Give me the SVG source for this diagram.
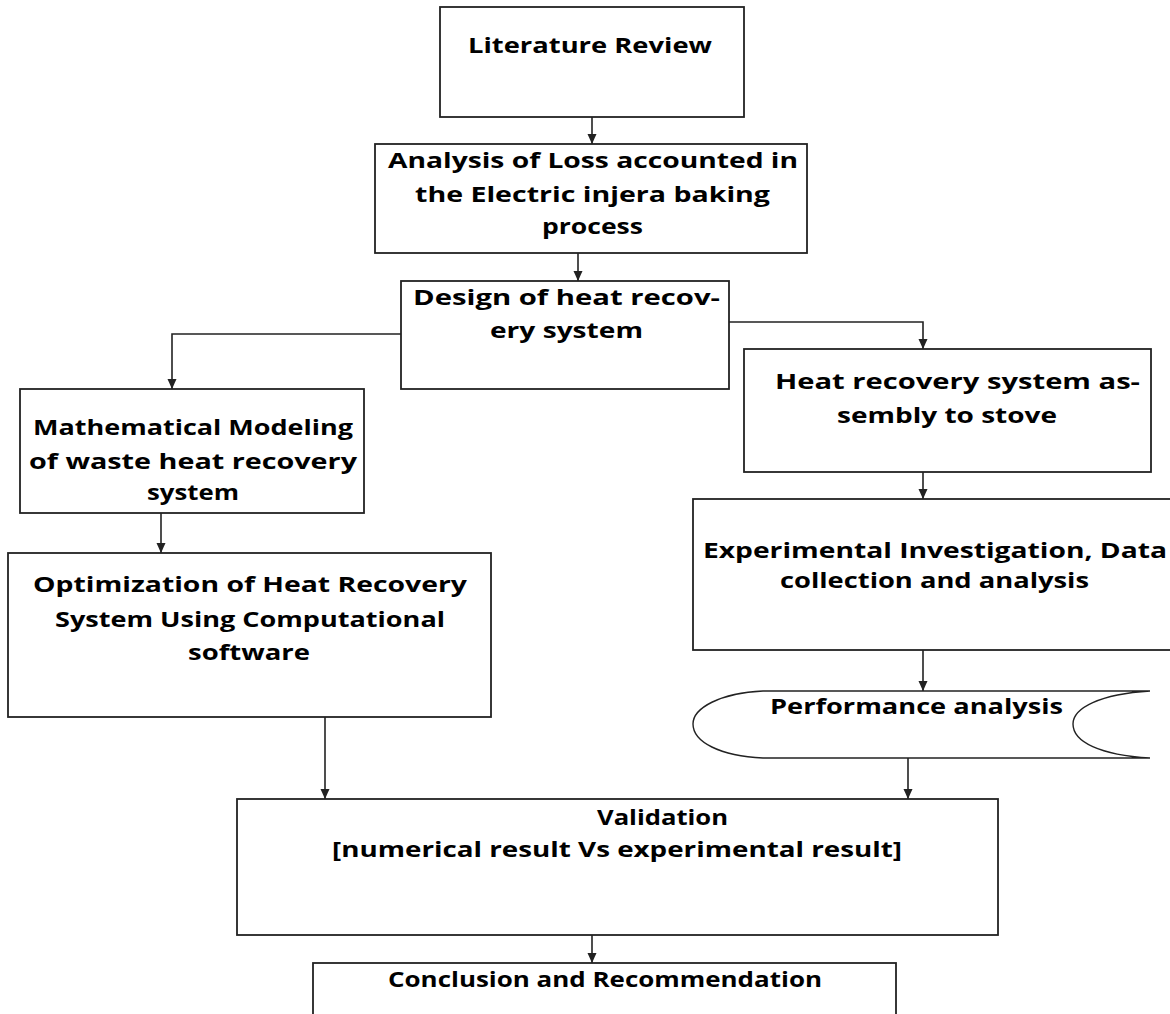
<svg xmlns="http://www.w3.org/2000/svg" width="1170" height="1014" viewBox="0 0 1170 1014">
<style>
.box{fill:#fff;stroke:#222;stroke-width:1.8}
.conn{fill:none;stroke:#222;stroke-width:1.6}
text{font-family:"Open Sans","DejaVu Sans",sans-serif;font-weight:700;font-size:22px;fill:#000}
</style>
<defs>
<marker id="arr" markerUnits="userSpaceOnUse" markerWidth="10" markerHeight="10" refX="10" refY="5" orient="auto">
<path d="M0,0.5 L10,5 L0,9.5 z" fill="#222"/>
</marker>
</defs>
<rect width="1170" height="1014" fill="#fff"/>
<g id="connectors">
<path class="conn" d="M592 117 V144" marker-end="url(#arr)"/>
<path class="conn" d="M578 253 V281" marker-end="url(#arr)"/>
<path class="conn" d="M401 334 H172 V389" marker-end="url(#arr)"/>
<path class="conn" d="M729 322 H923 V349" marker-end="url(#arr)"/>
<path class="conn" d="M161 513 V553" marker-end="url(#arr)"/>
<path class="conn" d="M923 472 V499" marker-end="url(#arr)"/>
<path class="conn" d="M923 650 V691" marker-end="url(#arr)"/>
<path class="conn" d="M325 717 V799" marker-end="url(#arr)"/>
<path class="conn" d="M908 758 V799" marker-end="url(#arr)"/>
<path class="conn" d="M592 935 V963" marker-end="url(#arr)"/>
</g>
<g id="literature">
<rect class="box" x="440" y="7" width="304" height="110"/>
<text x="468" y="53" textLength="244" lengthAdjust="spacingAndGlyphs">Literature Review</text>
</g>
<g id="analysis">
<rect class="box" x="375" y="144" width="432" height="109"/>
<text x="388" y="168" textLength="410" lengthAdjust="spacingAndGlyphs">Analysis of Loss accounted in</text>
<text x="415" y="202" textLength="355" lengthAdjust="spacingAndGlyphs">the Electric injera baking</text>
<text x="542" y="234" textLength="101" lengthAdjust="spacingAndGlyphs">process</text>
</g>
<g id="design">
<rect class="box" x="401" y="281" width="328" height="108"/>
<text x="413" y="305" textLength="307" lengthAdjust="spacingAndGlyphs">Design of heat recov-</text>
<text x="490" y="338" textLength="153" lengthAdjust="spacingAndGlyphs">ery system</text>
</g>
<g id="math">
<rect class="box" x="20" y="389" width="344" height="124"/>
<text x="33" y="435" textLength="320" lengthAdjust="spacingAndGlyphs">Mathematical Modeling</text>
<text x="29" y="469" textLength="328" lengthAdjust="spacingAndGlyphs">of waste heat recovery</text>
<text x="147" y="500" textLength="92" lengthAdjust="spacingAndGlyphs">system</text>
</g>
<g id="optimization">
<rect class="box" x="8" y="553" width="483" height="164"/>
<text x="33" y="592" textLength="434" lengthAdjust="spacingAndGlyphs">Optimization of Heat Recovery</text>
<text x="55" y="627" textLength="390" lengthAdjust="spacingAndGlyphs">System Using Computational</text>
<text x="188" y="660" textLength="122" lengthAdjust="spacingAndGlyphs">software</text>
</g>
<g id="assembly">
<rect class="box" x="744" y="349" width="407" height="123"/>
<text x="775" y="389" textLength="365" lengthAdjust="spacingAndGlyphs">Heat recovery system as-</text>
<text x="837" y="423" textLength="220" lengthAdjust="spacingAndGlyphs">sembly to stove</text>
</g>
<g id="experimental">
<rect class="box" x="693" y="499" width="482" height="151"/>
<text x="703" y="558" textLength="464" lengthAdjust="spacingAndGlyphs">Experimental Investigation, Data</text>
<text x="780" y="588" textLength="309" lengthAdjust="spacingAndGlyphs">collection and analysis</text>
</g>
<g id="performance">
<path d="M763 691 H1150 C1100 694 1073 708 1073 724 C1073 742 1100 755 1150 758 H763 C720 756 693 742 693 724 C693 708 720 693 763 691 Z" fill="#fff" stroke="#222" stroke-width="1.4"/>
<text x="770" y="714" textLength="293" lengthAdjust="spacingAndGlyphs">Performance analysis</text>
</g>
<g id="validation">
<rect class="box" x="237" y="799" width="761" height="136"/>
<text x="597" y="825" textLength="131" lengthAdjust="spacingAndGlyphs">Validation</text>
<text x="332" y="857" textLength="570" lengthAdjust="spacingAndGlyphs">[numerical result Vs experimental result]</text>
</g>
<g id="conclusion">
<rect class="box" x="313" y="963" width="583" height="70"/>
<text x="388" y="987" textLength="434" lengthAdjust="spacingAndGlyphs">Conclusion and Recommendation</text>
</g>
</svg>
